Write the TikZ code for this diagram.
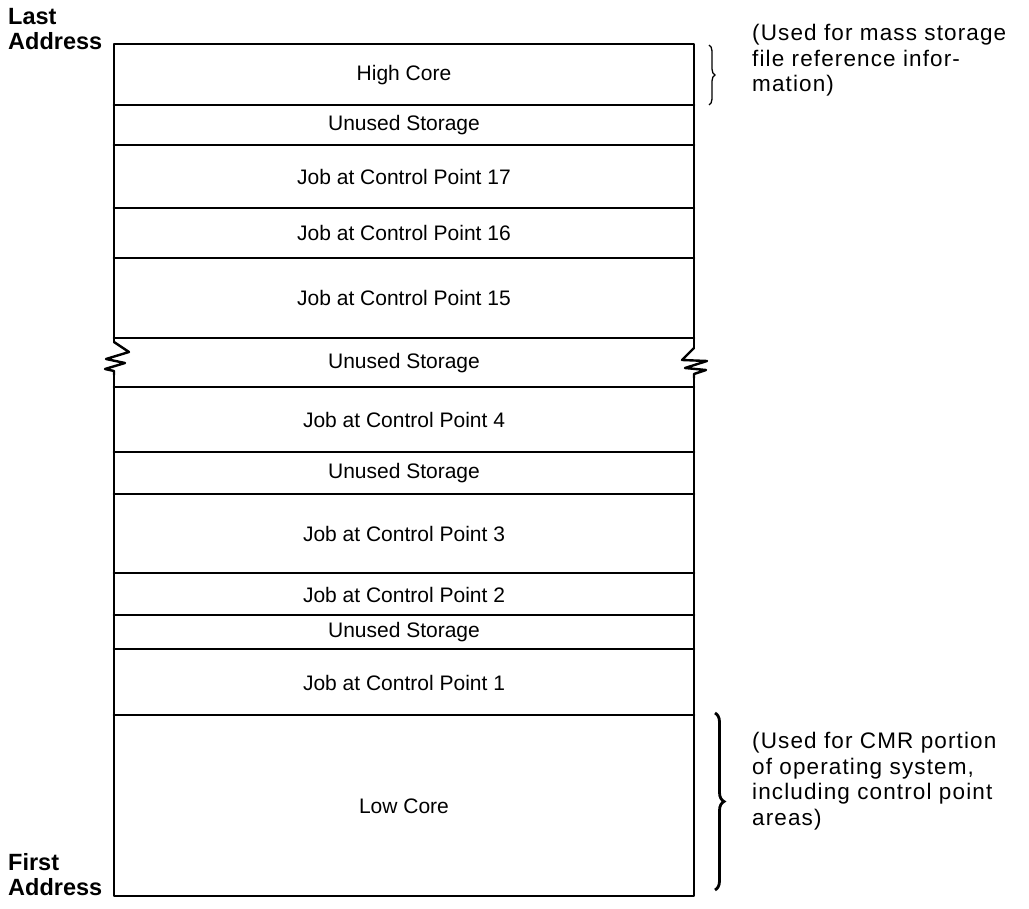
\documentclass[tikz,border=0pt]{standalone}
\usepackage{fontspec}
\setmainfont{Liberation Sans}
\usetikzlibrary{decorations.pathreplacing}
\begin{document}
\begin{tikzpicture}[x=1pt,y=-1pt,
  boxline/.style={line width=2.6pt, line cap=round, line join=round},
  lbl/.style={font=\fontsize{21}{24}\selectfont, inner sep=0pt},
  side/.style={font=\fontsize{22.5}{25.6}\selectfont\addfontfeatures{LetterSpace=5}, inner sep=0pt, align=left, anchor=north west},
  addr/.style={font=\bfseries\fontsize{23.5}{25.5}\selectfont, inner sep=0pt, align=left, anchor=north west}]
\useasboundingbox (0,0) rectangle (1029,909);
\def\L{114}\def\R{694}
\coordinate (tl) at (\L,44);
\coordinate (tr) at (\R,44);
\coordinate (bl) at (\L,896);
\coordinate (br) at (\R,896);
\draw[boxline] (\L,342) -- (tl) -- (tr) -- (\R,348);
\draw[boxline] (\L,375) -- (bl) -- (br) -- (\R,378);
% break marks
\draw[boxline, line width=2.4pt] (\L,342) -- (129,352) -- (106,359) -- (125,363) -- (105,369) -- (\L,371) -- (\L,375);
\draw[boxline, line width=2.4pt] (\R,348) -- (682,360) -- (707,361) -- (685,368) -- (706,370) -- (\R,374) -- (\R,378);
% horizontal separators
\foreach \y in {105,145,208,258,338,387,452,494,573,615,649,715}
  \draw[boxline] (\L,\y) -- (\R,\y);
% labels
\node[lbl] (hc) at (404,75) {High Core};
\node[lbl] (u1) at (404,125) {Unused Storage};
\node[lbl] (j17) at (404,177) {Job at Control Point 17};
\node[lbl] (j16) at (404,233) {Job at Control Point 16};
\node[lbl] (j15) at (404,298) {Job at Control Point 15};
\node[lbl] (u2) at (404,363) {Unused Storage};
\node[lbl] (j4) at (404,420) {Job at Control Point 4};
\node[lbl] (u3) at (404,473) {Unused Storage};
\node[lbl] (j3) at (404,534) {Job at Control Point 3};
\node[lbl] (j2) at (404,595) {Job at Control Point 2};
\node[lbl] (u4) at (404,632) {Unused Storage};
\node[lbl] (j1) at (404,683) {Job at Control Point 1};
\node[lbl] (lc) at (404,806) {Low Core};
% left address labels
\node[addr] (last) at (8,8) {Last\\Address};
\node[addr] (first) at (8,853) {First\\Address};
% braces
\draw[line width=1.3pt, decorate, decoration={brace, amplitude=6pt}] (709,45) -- (709,105);
\draw[line width=2.8pt, decorate, decoration={brace, amplitude=9pt}] (715,713) -- (715,890);
% side notes
\node[side] (n1) at (752,24) {(Used for mass storage\\file reference infor-\\mation)};
\node[side] (n2) at (752,732) {(Used for CMR portion\\of operating system,\\including control point\\areas)};
\end{tikzpicture}
\end{document}
